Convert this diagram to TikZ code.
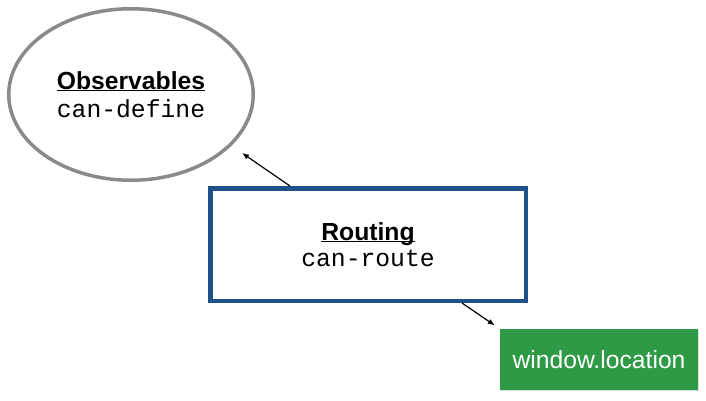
\documentclass[tikz,border=0pt]{standalone}
\usepackage{fontspec}
\setmainfont{Liberation Sans}
\setmonofont{Liberation Mono}
\usetikzlibrary{arrows.meta,shapes.geometric,shadows}

\definecolor{obsgray}{HTML}{898A8C}
\definecolor{routeblue}{HTML}{1E5189}
\definecolor{wingreen}{HTML}{2F9A46}

\newcommand{\heading}[1]{\underline{\raisebox{0pt}[\height][0pt]{\bfseries #1}}}

\begin{document}
\begin{tikzpicture}[x=1pt,y=1pt,
  every node/.append style={inner sep=0pt, align=center, font=\fontsize{24.7}{28.5}\selectfont},
  module/.style={draw=routeblue, line width=4.5pt, fill=white, minimum width=315.5pt, minimum height=112.5pt},
  depends/.style={ellipse, draw=obsgray, line width=3.5pt, fill=white, minimum width=244.5pt, minimum height=171.5pt},
  browser/.style={fill=wingreen, text=white, minimum width=198pt, minimum height=61pt,
    drop shadow={opacity=0.25, shadow xshift=1pt, shadow yshift=-1pt}},
  conn/.style={line width=1.2pt, -{Latex[length=7pt,width=5.5pt]}}]
\useasboundingbox (0,0) rectangle (706,-401);
\node[depends] (obs) at (131,-94.5) {\heading{Observables}\\\texttt{can-define}};
\node[module] (route) at (368,-244.5) {\heading{Routing}\\[-2pt]\texttt{can-route}};
\node[browser] (win) at (599,-359.5) {window.location};
\coordinate (obstip) at (242,-153);
\draw[conn] ([xshift=82pt]route.north west) -- (obstip);
\draw[conn, shorten >=6pt] ([xshift=254pt]route.south west) -- (win.north west);
\end{tikzpicture}
\end{document}
